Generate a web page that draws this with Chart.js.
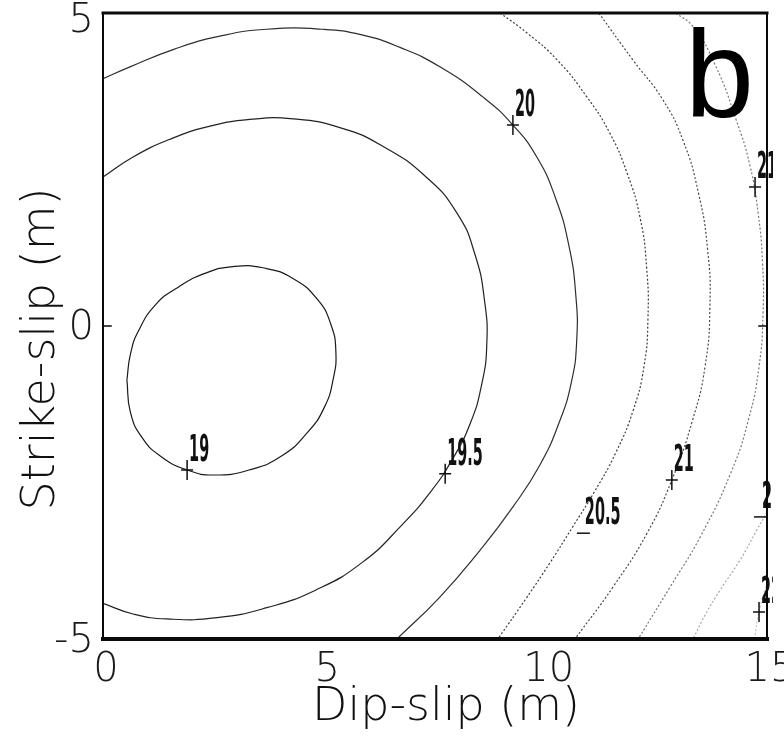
<!DOCTYPE html>
<html>
<head>
<meta charset="utf-8">
<script src="https://cdn.jsdelivr.net/npm/chart.js@4.4.1/dist/chart.umd.min.js"></script>
<style>
  html, body { margin: 0; padding: 0; background: #fff; }
  #wrap { width: 784px; height: 739px; }
</style>
</head>
<body>
<div id="wrap"><canvas id="contourChart" width="784" height="739"></canvas></div>
<script>
// Contour lines: [dip-slip (m), strike-slip (m)]
const levels = ['19', '19.5', '20', '20.5', '21', '21.5', '22', '22.5'];
const c19 = [[0.54,-0.86],[0.62,-0.45],[0.80,-0.08],[1.20,0.35],[1.70,0.62],[2.30,0.84],[2.94,0.95],[3.61,0.93],[4.29,0.76],[4.85,0.42],[5.15,0.02],[5.26,-0.40],[5.20,-0.85],[5.00,-1.30],[4.62,-1.70],[4.05,-2.07],[3.30,-2.30],[2.50,-2.38],[1.90,-2.30],[1.30,-2.08],[0.88,-1.78],[0.62,-1.38],[0.54,-0.86]];
const c195 = [[0,2.38],[0.68,2.70],[1.50,2.98],[2.35,3.18],[3.32,3.30],[4.30,3.31],[5.35,3.17],[6.30,2.88],[7.30,2.38],[8.00,1.80],[8.40,1.15],[8.62,0.40],[8.67,-0.30],[8.55,-0.95],[8.30,-1.55],[7.90,-2.12],[7.40,-2.65],[6.75,-3.18],[5.85,-3.78],[4.80,-4.22],[3.70,-4.50],[2.58,-4.66],[1.45,-4.68],[0.68,-4.60],[0,-4.43]];
const c20 = [[0,3.95],[0.61,4.14],[1.60,4.42],[2.64,4.63],[3.70,4.74],[4.97,4.74],[5.85,4.65],[6.71,4.45],[7.61,4.14],[8.58,3.66],[9.26,3.21],[9.80,2.70],[10.22,2.05],[10.52,1.30],[10.68,0.50],[10.70,-0.25],[10.58,-0.90],[10.30,-1.55],[9.87,-2.22],[9.26,-2.89],[8.52,-3.58],[7.61,-4.33],[6.64,-5]];
const c205 = [[8.97,5],[9.58,4.68],[10.26,4.25],[10.93,3.66],[11.45,3.08],[11.84,2.44],[12.13,1.74],[12.28,0.94],[12.31,0.10],[12.22,-0.65],[11.98,-1.34],[11.58,-2.03],[11.10,-2.65],[10.60,-3.22],[10.10,-3.78],[9.55,-4.36],[8.92,-5]];
const c21 = [[11.20,5],[11.97,4.25],[12.65,3.61],[13.10,2.97],[13.45,2.13],[13.66,1.21],[13.71,0.30],[13.60,-0.65],[13.32,-1.50],[12.85,-2.46],[12.29,-3.31],[11.52,-4.17],[10.66,-5]];
const c215 = [[12.94,5],[13.33,4.78],[13.83,4.17],[14.30,3.30],[14.62,2.55],[14.80,1.80],[14.90,1.00],[14.91,0.20],[14.82,-0.65],[14.58,-1.50],[14.18,-2.35],[13.49,-3.37],[12.81,-4.17],[12.09,-5]];
const c22 = [[15,-2.97],[14.77,-3.26],[14.39,-3.74],[13.94,-4.22],[13.60,-4.62],[13.33,-5]];
const c225 = [[15,-4.10],[14.82,-4.57],[14.72,-5]];
const contours = [c19, c195, c20, c205, c21, c215, c22, c225];
const lineColors = ['#1a1a1a', '#222222', '#2e2e2e', '#3c3c3c', '#4a4a4a', '#777777', '#a8a8a8', '#c4c4c4'];
const lineDash = [[], [], [], [2, 2], [2, 2], [2, 2], [2, 2], [2, 2]];

// Inline contour labels (text, anchor point, marker)
const labelText = ['19', '19.5', '20', '20.5', '21', '21', '22', '22'];
const labelX = [1.90, 7.73, 9.26, 10.84, 12.85, 14.73, 14.84, 14.82];
const labelY = [-2.30, -2.36, 3.21, -3.31, -2.46, 2.22, -3.05, -4.57];
const labelMark = ['+', '+', '+', '_', '+', '+', '_', '+'];

const xTicks = [0, 5, 10, 15];
const yTicks = [-5, 0, 5];

const FONT = '"DejaVu Sans", "Liberation Sans", sans-serif';

const overlay = {
    id: 'overlay',
    afterDatasetsDraw(chart) {
        const ctx = chart.ctx;
        const a = chart.chartArea;
        const xs = chart.scales.x, ys = chart.scales.y;
        ctx.save();

        // contour labels
        ctx.fillStyle = '#111';
        ctx.strokeStyle = '#111';
        ctx.lineWidth = 1.5;
        ctx.beginPath();
        ctx.rect(0, 0, a.right + 6, chart.height);
        ctx.clip();
        for (let i = 0; i < labelText.length; i++) {
            const px = xs.getPixelForValue(labelX[i]);
            const py = ys.getPixelForValue(labelY[i]);
            ctx.beginPath();
            if (labelMark[i] === '+') {
                ctx.moveTo(px - 6, py); ctx.lineTo(px + 6, py);
                ctx.moveTo(px, py - 10); ctx.lineTo(px, py + 10);
            } else {
                ctx.moveTo(px - 6, py); ctx.lineTo(px + 7, py);
            }
            ctx.stroke();
            ctx.save();
            ctx.translate(px + 2, py - 9);
            ctx.scale(0.38, 1);
            ctx.font = 'bold 38px ' + FONT;
            ctx.textAlign = 'left';
            ctx.textBaseline = 'alphabetic';
            ctx.fillText(labelText[i], 0, 0);
            ctx.restore();
        }
        ctx.restore();
        ctx.save();

        // frame
        ctx.strokeStyle = '#0a0a0a';
        ctx.lineCap = 'square';
        ctx.lineWidth = 3;
        ctx.beginPath(); ctx.moveTo(a.left, a.top); ctx.lineTo(a.right, a.top); ctx.stroke();
        ctx.lineWidth = 4;
        ctx.beginPath(); ctx.moveTo(a.left, a.bottom); ctx.lineTo(a.right, a.bottom); ctx.stroke();
        ctx.lineWidth = 2;
        ctx.beginPath(); ctx.moveTo(a.left, a.top); ctx.lineTo(a.left, a.bottom); ctx.stroke();
        ctx.beginPath(); ctx.moveTo(a.right, a.top); ctx.lineTo(a.right, a.bottom); ctx.stroke();
        // inward tick at strike-slip 0 on both sides
        const y0 = ys.getPixelForValue(0);
        ctx.lineWidth = 1.5;
        ctx.beginPath();
        ctx.moveTo(a.left, y0); ctx.lineTo(a.left + 8, y0);
        ctx.moveTo(a.right, y0); ctx.lineTo(a.right - 8, y0);
        ctx.stroke();

        // tick labels
        ctx.fillStyle = '#1a1a1a';
        ctx.font = '300 40px ' + FONT;
        ctx.textAlign = 'right';
        ctx.textBaseline = 'middle';
        yTicks.forEach(v => {
            const py = Math.max(ys.getPixelForValue(v) + 3, 22);
            ctx.fillText(String(v), a.left - 9, py);
        });
        ctx.textAlign = 'center';
        ctx.textBaseline = 'top';
        xTicks.forEach(v => {
            ctx.fillText(String(v), xs.getPixelForValue(v) + 3, a.bottom + 12);
        });

        // panel letter
        ctx.fillStyle = '#000';
        ctx.font = '124px "Liberation Sans", Arial, sans-serif';
        ctx.textAlign = 'left';
        ctx.textBaseline = 'alphabetic';
        ctx.fillText('b', 685, 117);

        // axis titles
        ctx.fillStyle = '#111';
        ctx.font = '300 46px ' + FONT;
        ctx.textAlign = 'center';
        ctx.fillText('Dip-slip (m)', 446, 720);
        ctx.translate(54, 349);
        ctx.rotate(-Math.PI / 2);
        ctx.fillText('Strike-slip (m)', 0, 0);
        ctx.restore();
    }
};

const chart = new Chart(document.getElementById('contourChart').getContext('2d'), {
    type: 'scatter',
    data: {
        datasets: contours.map((c, i) => ({
            label: levels[i],
            data: c.map(p => ({ x: p[0], y: p[1] })),
            showLine: true,
            borderColor: lineColors[i],
            borderDash: lineDash[i],
            borderWidth: 1.2,
            pointRadius: 0,
            tension: 0.5
        }))
    },
    options: {
        responsive: false,
        animation: false,
        devicePixelRatio: 1,
        layout: { padding: { top: 13, right: 17, left: 0, bottom: 0 } },
        plugins: { legend: { display: false }, tooltip: { enabled: false } },
        scales: {
            x: {
                type: 'linear', min: 0, max: 15,
                afterFit: s => { s.height = 100; s.paddingLeft = 0; s.paddingRight = 0; },
                grid: { display: false, drawTicks: false },
                border: { display: false },
                ticks: { display: false }
            },
            y: {
                type: 'linear', min: -5, max: 5,
                afterFit: s => { s.width = 103; s.paddingTop = 0; s.paddingBottom = 0; },
                grid: { display: false, drawTicks: false },
                border: { display: false },
                ticks: { display: false }
            }
        }
    },
    plugins: [overlay]
});
</script>
</body>
</html>
